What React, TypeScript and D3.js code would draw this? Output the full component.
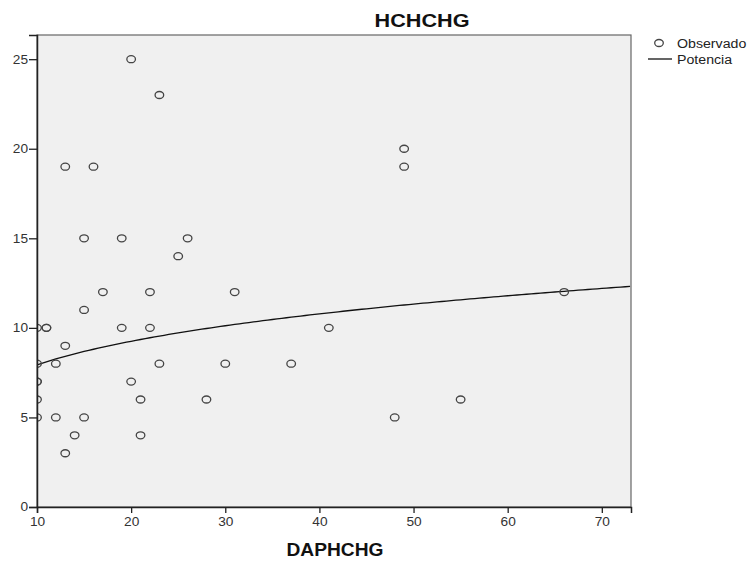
import { useEffect, useRef } from 'react'
import { select, scaleLinear, axisBottom, axisLeft, line, range } from 'd3'

const dap = [20, 23, 13, 16, 49, 49, 15, 19, 26, 25, 17, 22, 31, 66, 15, 10, 11, 11, 19, 22, 41, 13, 10, 12, 23, 30, 37, 10, 10, 20, 10, 21, 28, 55, 10, 12, 15, 48, 14, 21, 13]
const hc = [25, 23, 19, 19, 20, 19, 15, 15, 15, 14, 12, 12, 12, 12, 11, 10, 10, 10, 10, 10, 10, 9, 8, 8, 8, 8, 8, 7, 7, 7, 6, 6, 6, 6, 5, 5, 5, 5, 4, 4, 3]

const xTicks = [10, 20, 30, 40, 50, 60, 70]
const yTicks = [0, 5, 10, 15, 20, 25]
const legendLabels = ['Observado', 'Potencia']

const W = 752
const H = 565
const margin = { top: 35, right: 121, bottom: 58, left: 37 }
const innerW = W - margin.left - margin.right
const innerH = H - margin.top - margin.bottom
const font = 'Liberation Sans, Arial, sans-serif'
// the source picture is a bit wider than tall, text looks stretched
const stretch = 1.14

// power fit y = a * x^b, least squares on ln y vs ln x
const lx = dap.map(Math.log)
const ly = hc.map(Math.log)
const mx = lx.reduce((s, v) => s + v, 0) / lx.length
const my = ly.reduce((s, v) => s + v, 0) / ly.length
let sxy = 0
let sxx = 0
lx.forEach((v, i) => {
  sxy += (v - mx) * (ly[i] - my)
  sxx += (v - mx) * (v - mx)
})
const b = sxy / sxx
const a = Math.exp(my - b * mx)

const App = () => {
  const svgRef = useRef<SVGSVGElement>(null)

  useEffect(() => {
    const svg = select(svgRef.current)
    svg.selectAll('*').remove()

    const x = scaleLinear().domain([10, 73.1]).range([0, innerW])
    const y = scaleLinear().domain([0, 26.35]).range([innerH, 0])

    svg.append('defs').append('clipPath').attr('id', 'plot-clip')
      .append('rect').attr('width', innerW).attr('height', innerH)

    const g = svg.append('g').attr('transform', `translate(${margin.left},${margin.top})`)

    g.append('rect')
      .attr('width', innerW)
      .attr('height', innerH)
      .attr('fill', '#f0f0f0')
      .attr('stroke', '#666')
      .attr('stroke-width', 1.2)

    const plot = g.append('g').attr('clip-path', 'url(#plot-clip)')

    const xs = range(10, 73.2, 0.5)
    const fit = line<number>()
      .x(d => x(d))
      .y(d => y(a * Math.pow(d, b)))
    plot.append('path')
      .datum(xs)
      .attr('d', fit)
      .attr('fill', 'none')
      .attr('stroke', '#111')
      .attr('stroke-width', 1.3)

    plot.selectAll('.pt')
      .data(dap)
      .join('ellipse')
      .attr('class', 'pt')
      .attr('cx', d => x(d))
      .attr('cy', (_, i) => y(hc[i]))
      .attr('rx', 4.3)
      .attr('ry', 3.5)
      .attr('fill', 'none')
      .attr('stroke', '#444')
      .attr('stroke-width', 1.3)

    const xAxis = g.append('g')
      .attr('transform', `translate(0,${innerH})`)
      .call(axisBottom(x).tickValues(xTicks).tickSize(6).tickPadding(4).tickFormat(d => `${d}`))
    const yAxis = g.append('g')
      .call(axisLeft(y).tickValues(yTicks).tickSize(8).tickPadding(1).tickFormat(d => `${d}`))

    ;[xAxis, yAxis].forEach(ax => {
      ax.select('.domain').attr('stroke', '#222').attr('stroke-width', 1.5)
      ax.selectAll('.tick line').attr('stroke', '#222').attr('stroke-width', 1.3)
      ax.selectAll<SVGTextElement, unknown>('.tick text')
        .attr('fill', '#333')
        .style('font-family', font)
        .style('font-size', '12px')
        .each(function () {
          const len = this.getComputedTextLength()
          select(this).attr('textLength', len * stretch).attr('lengthAdjust', 'spacingAndGlyphs')
        })
    })

    svg.append('text')
      .attr('x', 422)
      .attr('y', 27)
      .attr('text-anchor', 'middle')
      .attr('textLength', 95)
      .attr('lengthAdjust', 'spacingAndGlyphs')
      .style('font-family', font)
      .style('font-weight', 'bold')
      .style('font-size', '18.5px')
      .attr('fill', '#111')
      .text('HCHCHG')

    svg.append('text')
      .attr('x', 335)
      .attr('y', 556)
      .attr('text-anchor', 'middle')
      .attr('textLength', 97)
      .attr('lengthAdjust', 'spacingAndGlyphs')
      .style('font-family', font)
      .style('font-weight', 'bold')
      .style('font-size', '17.5px')
      .attr('fill', '#111')
      .text('DAPHCHG')

    const legend = svg.append('g')
    legend.append('ellipse')
      .attr('cx', 659).attr('cy', 43).attr('rx', 4.3).attr('ry', 3.5)
      .attr('fill', 'none').attr('stroke', '#444').attr('stroke-width', 1.3)
    legend.append('line')
      .attr('x1', 648).attr('x2', 672).attr('y1', 59).attr('y2', 59)
      .attr('stroke', '#111').attr('stroke-width', 1.3)
    legend.selectAll<SVGTextElement, string>('.lt')
      .data(legendLabels)
      .join('text')
      .attr('class', 'lt')
      .attr('x', 677)
      .attr('y', (_, i) => 48 + i * 16)
      .style('font-family', font)
      .style('font-size', '12px')
      .attr('fill', '#222')
      .text(d => d)
      .each(function () {
        const len = this.getComputedTextLength()
        select(this).attr('textLength', len * 1.18).attr('lengthAdjust', 'spacingAndGlyphs')
      })
  }, [])

  return (
    <svg
      ref={svgRef}
      width={W}
      height={H}
      style={{ position: 'absolute', left: 0, top: 0, background: '#fff' }}
    />
  )
}

export default App
